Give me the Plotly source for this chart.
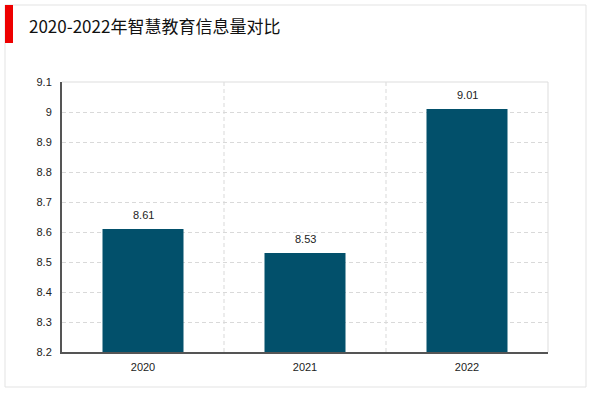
import plotly.graph_objects as go

categories = ["2020", "2021", "2022"]
values = [8.61, 8.53, 9.01]
value_labels = ["8.61", "8.53", "9.01"]
y_ticks = [8.2, 8.3, 8.4, 8.5, 8.6, 8.7, 8.8, 8.9, 9.0, 9.1]
y_tick_text = ["8.2", "8.3", "8.4", "8.5", "8.6", "8.7", "8.8", "8.9", "9", "9.1"]
title_text = "2020-2022年智慧教育信息量对比"

W, H = 600, 393
L, R, T, B = 62, 52, 82, 41
pw, ph = W - L - R, H - T - B

def px(x):
    return (x - L) / pw

def py(y):
    return (H - B - y) / ph

fig = go.Figure()
fig.add_trace(go.Bar(
    x=categories, y=values,
    marker=dict(color="#02506B", line=dict(width=0)),
    width=0.5,
    hoverinfo="x+y",
))

label_font = dict(family="Liberation Sans, Arial", size=11, color="#222222")
annotations = [dict(x=i, y=v, text=t, xref="x", yref="y", showarrow=False,
                    xanchor="center", yanchor="bottom", yshift=6, font=label_font)
               for i, (v, t) in enumerate(zip(values, value_labels))]
annotations.append(dict(text=title_text, xref="paper", yref="paper",
                        x=px(27), y=py(26), xanchor="left", yanchor="middle",
                        showarrow=False,
                        font=dict(family="Noto Sans CJK SC", size=17, color="#111111")))

shapes = []
shapes.append(dict(type="rect", xref="paper", yref="paper",
                   x0=px(5), x1=px(586), y0=py(387), y1=py(5),
                   line=dict(color="#e3e3e3", width=1), fillcolor="rgba(0,0,0,0)", layer="below"))
shapes.append(dict(type="rect", xref="paper", yref="paper",
                   x0=px(5), x1=px(13), y0=py(43), y1=py(5),
                   line=dict(width=0), fillcolor="#ee0000"))
for xv in [0.5, 1.5]:
    shapes.append(dict(type="line", xref="x", yref="paper", x0=xv, x1=xv, y0=0, y1=1,
                       line=dict(color="#d9d9d9", width=1, dash="4px,3px"), layer="below"))
shapes.append(dict(type="line", xref="paper", yref="paper", x0=0, x1=1, y0=1, y1=1,
                   line=dict(color="#dddddd", width=1)))
shapes.append(dict(type="line", xref="paper", yref="paper", x0=1, x1=1, y0=0, y1=1,
                   line=dict(color="#dddddd", width=1)))

fig.update_layout(
    width=W, height=H,
    margin=dict(l=L, r=R, t=T, b=B),
    paper_bgcolor="white", plot_bgcolor="white",
    showlegend=False,
    shapes=shapes,
    annotations=annotations,
    xaxis=dict(
        type="category",
        range=[-0.5, 2.5], showgrid=False, showline=True,
        linecolor="#555555", linewidth=2, ticks="",
        tickfont=label_font, ticklabelstandoff=4,
        fixedrange=True,
    ),
    yaxis=dict(
        range=[8.2, 9.1], tickvals=y_ticks, ticktext=y_tick_text,
        showgrid=True, gridcolor="#d9d9d9", griddash="4px,3px", gridwidth=1,
        showline=True, linecolor="#555555", linewidth=2, ticks="",
        zeroline=False,
        tickfont=label_font,
        ticklabelstandoff=6,
        fixedrange=True,
    ),
    bargap=0.5,
)

fig.write_html("out.html",
               config={"displayModeBar": False},
               post_script="document.body.style.margin='0';document.body.style.padding='0';document.body.style.overflow='hidden';")
